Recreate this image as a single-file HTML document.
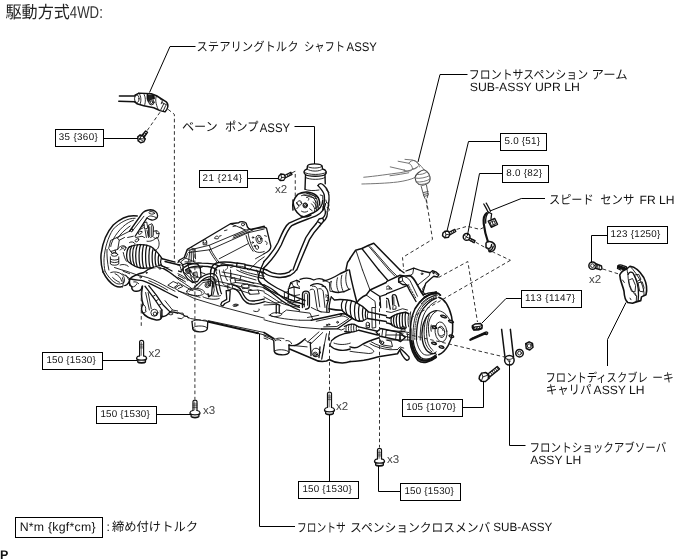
<!DOCTYPE html>
<html><head><meta charset="utf-8"><title>4WD front suspension</title>
<style>
html,body{margin:0;padding:0;background:#fff;}
body{width:688px;height:560px;overflow:hidden;font-family:"Liberation Sans","Noto Sans CJK JP",sans-serif;}
svg{display:block;position:absolute;left:0;top:0;will-change:transform;}
svg text{font-family:"Liberation Sans","Noto Sans CJK JP",sans-serif;text-rendering:geometricPrecision;}
#drawing *{vector-effect:non-scaling-stroke;}
#drawing .d{stroke:#333;stroke-width:1;stroke-dasharray:3.6 2.6;stroke-linecap:butt;}
</style></head><body>
<svg width="688" height="560" viewBox="0 0 688 560">
<g id="drawing" fill="none" stroke="#111" stroke-width="0.9" stroke-linecap="round" stroke-linejoin="round">
<!-- T1: left hub, 8x tile at (92,200) -->
<g transform="translate(92 200) scale(0.125)">
<path stroke-width="1.5" d="M362 128 C300 118 230 145 170 200 C120 255 85 340 73 430 C68 480 75 530 88 575"/>
<path d="M345 146 C285 145 225 178 168 235 C128 300 102 385 96 470 C95 510 98 540 104 570"/>
<path d="M332 162 C275 180 215 235 172 310 C160 335 152 355 150 372"/>
<path d="M305 208 C260 240 225 275 205 305"/>
<path d="M120 395 C118 440 122 500 135 560"/>
<!-- knuckle upper arm -->
<path stroke-width="1.3" d="M300 250 L398 112 C410 95 435 80 468 78 C500 78 525 98 525 125 C525 148 500 162 478 160 C460 158 448 150 440 143 L345 290"/>
<path d="M320 252 L415 130"/>
<ellipse cx="478" cy="103" rx="23" ry="10" transform="rotate(8 478 103)"/>
<path d="M440 143 C455 120 480 125 512 140"/>
<!-- caliper bracket bits -->
<path d="M416 182 L438 176 L446 225 L425 232 Z"/>
<path d="M455 200 L480 190 L492 215 L490 285 L470 300 L455 290 Z"/>
<path d="M462 215 L462 285 M478 205 L478 290"/>
<path d="M492 250 L520 245 L538 262 L530 300 L505 310 L492 295"/>
<path d="M512 248 L516 270 L535 268"/>
<path d="M440 240 L452 300 M425 240 L435 300"/>
<!-- bolts/bumps -->
<ellipse cx="385" cy="262" rx="17" ry="10" transform="rotate(-35 385 262)"/>
<ellipse cx="360" cy="322" rx="17" ry="10" transform="rotate(-35 360 322)"/>
<ellipse cx="318" cy="243" rx="12" ry="8" transform="rotate(-50 318 243)"/>
<path d="M300 340 C315 330 335 335 345 350 M285 300 L330 290 M350 300 L400 290 L420 300"/>
<path d="M395 215 L420 200 M385 235 L410 222"/>
<!-- hub circle arc -->
<path d="M520 298 C540 325 542 360 528 385 C520 398 508 405 498 405"/>
<path d="M440 330 C470 335 500 320 515 300"/>
<!-- bracket plate -->
<path d="M152 322 L200 300 L218 322 L206 395 L150 412 L135 390 Z"/>
<path d="M200 300 L300 250 M218 322 L260 300"/>
<path d="M205 395 C215 375 240 360 262 368 C275 375 272 395 260 405"/>
<path d="M225 400 C235 385 255 385 260 395"/>
<!-- tie rod end -->
<ellipse cx="180" cy="437" rx="26" ry="13"/>
<path d="M147 455 L147 512 C160 525 200 525 214 512 L214 455 M147 472 C165 484 198 484 214 472 M147 492 C165 504 198 504 214 492"/>
<path d="M160 430 C165 415 195 415 200 430"/>
<path d="M185 400 L190 420 M150 412 L160 425"/>
<!-- CV boot -->
<path stroke-width="1.3" d="M300 375 C340 355 420 350 470 372 C510 395 540 440 562 470"/>
<path stroke-width="1.3" d="M300 375 C275 395 270 465 288 492 C320 520 370 545 410 546 C460 546 510 536 550 520"/>
<path stroke-width="1.25" d="M318 368 C298 400 298 470 315 510"/>
<path stroke-width="1.25" d="M340 362 C320 400 320 480 340 525"/>
<path stroke-width="1.25" d="M365 358 C345 400 345 490 362 535"/>
<path stroke-width="1.25" d="M390 356 C372 400 372 500 390 544"/>
<path stroke-width="1.25" d="M415 357 C398 400 398 505 415 546"/>
<path stroke-width="1.25" d="M440 362 C425 400 425 505 440 545"/>
<path stroke-width="1.25" d="M465 372 C452 410 452 505 466 542"/>
<path stroke-width="1.25" d="M490 388 C478 420 478 505 492 538"/>
<path stroke-width="1.25" d="M512 410 C502 440 502 505 515 532"/>
<path stroke-width="1.25" d="M535 438 C527 460 527 505 538 526"/>
<path stroke-width="1.25" d="M555 462 C548 480 548 505 555 520"/>
<!-- shaft -->
<path stroke-width="1.3" d="M562 470 L665 497 M550 520 L640 568"/>
<path d="M250 420 C255 445 262 470 275 490 M235 380 C245 372 262 372 275 380"/>
<path d="M225 520 C245 512 275 515 290 530 M180 540 L240 560"/>
</g>
<!-- T2: left lower, 8x tile at (92,270) -->
<clipPath id="c2"><path d="M-10 -10 H306 V130 H240 V600 H-10 Z"/></clipPath>
<g transform="translate(92 270) scale(0.125)" clip-path="url(#c2)">
<path stroke-width="1.5" d="M88 15 C105 50 140 100 180 125 C210 140 250 138 278 118 C292 108 300 95 305 80"/>
<path d="M104 10 C125 50 160 90 195 108 C215 116 240 112 255 100"/>
<path d="M150 20 C175 10 215 15 240 35 C262 55 265 85 255 100"/>
<path d="M185 30 C210 40 230 60 238 90 M165 60 C180 75 200 90 220 98"/>
<path d="M250 10 L340 45 M270 40 L300 85"/>
<!-- ball joint bumps -->
<path stroke-width="1.3" d="M305 80 C295 100 300 125 315 140 C312 155 325 170 345 172 C370 178 392 160 395 135"/>
<path d="M315 140 C335 145 350 135 355 120 M345 110 C360 105 380 110 390 125"/>
<path d="M305 80 C320 60 345 50 365 55 M330 95 C345 85 370 85 385 95"/>
<path d="M350 40 C380 20 430 15 480 40 C520 60 600 115 690 160"/>
<path d="M365 55 C390 50 420 60 440 80 L690 190"/>
<path d="M440 80 C470 70 520 90 560 120 C600 150 650 180 690 200"/>
<path d="M370 70 L410 75 M385 55 L392 85"/>
<!-- bracket down -->
<path stroke-width="1.3" d="M395 135 C392 180 398 225 408 258 C395 270 390 300 400 325 C405 345 425 360 440 368 C470 390 520 405 548 400 C560 398 565 390 562 380 L562 300"/>
<path d="M408 258 C425 270 435 300 430 330 M400 325 C415 335 430 335 440 325"/>
<path d="M410 135 C420 200 440 290 455 350 M430 130 C440 200 455 280 470 350"/>
<path d="M430 130 C470 180 520 250 562 300 M455 150 C495 200 540 260 575 300"/>
<path d="M480 200 L500 190 M510 240 L530 230"/>
<circle cx="505" cy="345" r="26"/>
<circle cx="508" cy="350" r="13"/>
<path d="M545 305 L548 385 M562 380 C600 390 650 398 690 402"/>
<path d="M575 300 C610 330 650 355 690 362"/>
<path d="M612 345 C620 330 640 328 650 340 C645 355 625 360 612 345"/>
<!-- dashed -->
<path class="d" d="M395 190 L395 560"/>
</g>
<!-- T3: steering gear top, 8x tile at (178,200) -->
<g transform="translate(178 200) scale(0.125)">
<path stroke-width="1.4" d="M0 500 L12 480 L50 460 L75 395 L100 380 L420 190 L485 182 C495 170 530 168 545 185 L555 215 C565 232 585 238 600 232 L690 210"/>
<path d="M85 402 L250 362 L540 240 L690 222"/>
<path d="M100 380 L130 392 M420 190 L470 210 L540 240"/>
<path d="M250 362 L262 395 L560 262 L690 232"/>
<path d="M262 395 L240 400 L85 420"/>
<path d="M262 395 C280 430 305 470 330 500"/>
<path d="M250 400 C268 435 290 470 315 500"/>
<path d="M330 470 L560 350"/>
<path d="M440 305 L600 240 M445 290 L560 245"/>
<path d="M560 262 C570 320 590 380 615 410 C640 425 670 420 690 412"/>
<path d="M545 285 C555 330 575 380 600 410"/>
<ellipse cx="648" cy="315" rx="24" ry="34" transform="rotate(-15 648 315)"/>
<ellipse cx="650" cy="315" rx="13" ry="20" transform="rotate(-15 650 315)"/>
<ellipse cx="632" cy="378" rx="12" ry="17" transform="rotate(-15 632 378)"/>
<circle cx="600" cy="300" r="6"/><circle cx="598" cy="340" r="6"/><circle cx="612" cy="368" r="5"/>
<path d="M95 402 L85 490 M120 395 L125 492 M135 395 L140 470"/>
<path d="M50 460 C70 470 100 480 130 495"/>
<circle cx="215" cy="332" r="14"/><path d="M200 340 L202 358 L230 358 L230 340"/>
<path d="M295 300 C300 285 320 285 325 300 C330 310 310 315 295 308 Z M330 290 L345 285"/>
<path d="M372 245 L392 240 M440 212 L462 207"/>
<circle cx="520" cy="195" r="12"/><path d="M500 215 L520 235 M560 225 L585 238"/>
<path d="M330 500 C350 512 400 520 440 520"/>
<path d="M690 455 L640 490 L590 540 L570 560 M690 430 L620 470"/>
<!-- hoses lower-left -->
<path stroke-width="1.3" d="M30 560 C60 520 120 500 190 505 C250 505 300 510 330 530 M60 560 C90 535 140 525 200 530 C250 530 290 540 310 560"/>
<path d="M0 520 C20 515 40 520 50 535 M340 520 C360 505 385 510 395 530 C400 545 390 555 380 560"/>
<path d="M420 540 C450 525 500 525 540 540 L560 560"/>
</g>
<!-- T4: crossmember center-left, 8x tile at (178,270) -->
<g transform="translate(178 270) scale(0.125)">
<path d="M0 165 L130 228 L340 292 L690 385"/>
<path d="M0 100 C40 120 80 150 120 165 M0 60 L60 95"/>
<path d="M0 340 L60 368 L100 388 L240 412"/>
<path stroke-width="1.8" d="M245 414 L640 506"/>
<path d="M240 405 L690 500 M640 506 L690 520 M625 510 C630 500 648 500 652 512"/>
<path d="M0 345 L40 345 L50 370 L30 390 L0 385 M55 372 L75 368 L82 385"/>
<!-- bushing mount -->
<path stroke-width="1.3" d="M112 412 L118 470 C125 500 220 505 235 470 L238 415"/>
<path d="M118 470 C120 455 140 448 175 448 C210 448 232 455 235 470 M112 412 C125 400 160 398 180 400 M200 402 C215 398 232 402 238 415"/>
<!-- stamped oval -->
<path d="M70 170 C75 150 120 140 170 150 C200 158 215 170 210 185 C200 205 150 210 110 200 C85 195 68 185 70 170 Z"/>
<path d="M90 170 C95 158 125 152 160 160 C185 166 195 175 190 185"/>
<path d="M220 190 C260 210 310 215 340 205 M200 215 C240 235 300 240 330 228"/>
<!-- bracket w bolt -->
<path stroke-width="1.3" d="M130 140 L190 85 L250 75 L278 95 L268 200 L245 215 L240 190"/>
<path d="M150 150 L200 100 L255 92 M278 95 L290 160 L280 200"/>
<circle cx="235" cy="122" r="19"/><circle cx="235" cy="122" r="9"/>
<path d="M30 0 C60 30 100 60 130 100 L150 120 M60 0 C85 25 115 50 140 80"/>
<path d="M100 0 L120 40 L170 60 M0 30 C30 40 60 60 80 85"/>
<!-- hoses -->
<path stroke-width="1.3" d="M180 62 C210 40 250 25 285 30 C315 40 325 80 330 120 C335 150 340 175 348 190"/>
<path stroke-width="1.3" d="M190 85 C220 60 250 50 275 55 C295 65 300 100 305 130 C310 160 315 180 322 195"/>
<path d="M330 0 C335 40 345 80 360 110 C375 130 395 135 410 130 M365 0 C370 30 380 60 395 85"/>
<path d="M300 0 L310 30 M420 0 L425 60"/>
<!-- clamp -->
<path stroke-width="1.3" d="M385 165 L390 235 L350 258 L342 280 L358 288 L375 268 L412 250 L418 165 Z"/>
<path d="M395 120 L430 110 L440 150 L405 160 Z M420 70 L455 62 L460 100 L428 108 Z"/>
<!-- hoses right -->
<path stroke-width="1.3" d="M440 120 C470 125 495 140 510 170 C525 205 540 235 570 245 C610 255 660 240 690 232"/>
<path stroke-width="1.3" d="M445 150 C470 155 485 170 498 195 C515 230 535 262 570 270 C610 278 660 265 690 255"/>
<path d="M455 80 C520 85 600 100 690 120 M460 100 C520 105 600 120 690 142"/>
<path d="M510 120 L560 112 L570 140 L520 150 Z M570 125 L640 135"/>
<path d="M565 165 L640 160 L650 190 L575 195 Z M640 160 L690 170"/>
<path d="M470 0 C520 30 600 50 690 70 M500 0 C540 20 610 35 690 50"/>
<path d="M630 0 L650 60 L690 70 M660 0 L675 40"/>
<ellipse cx="460" cy="282" rx="21" ry="9" transform="rotate(-8 460 282)"/><ellipse cx="460" cy="282" rx="10" ry="4"/>
<path d="M605 328 C620 335 640 335 650 322 L648 312"/>
</g>
<!-- T5: seam, 8x tile at (150,235) -->
<clipPath id="c5"><path clip-rule="evenodd" d="M-10 -10 H800 V700 H-10 Z M-10 264 H224 V700 H-10 Z"/></clipPath>
<g transform="translate(150 235) scale(0.125)" clip-path="url(#c5)">
<path stroke-width="1.3" d="M120 212 L235 240 M95 250 L250 295"/>
<path d="M235 240 C245 255 250 275 250 295 M225 205 L260 235"/>
<!-- valve body -->
<path stroke-width="1.3" d="M262 238 L300 225 L380 232 L402 262 L408 330 L380 372 L340 380 L300 350 L268 300 Z"/>
<circle cx="305" cy="290" r="19"/><circle cx="305" cy="290" r="9"/>
<path d="M300 225 L310 262 L380 262 L402 262 M310 262 L340 380 M350 300 L375 295 L380 340 L355 345 Z"/>
<path d="M262 238 L245 215 L290 180 L300 150 M280 215 L330 215 L330 130"/>
<path d="M408 300 L440 310 M400 265 L430 250"/>
<!-- lower arm top face -->
<path d="M0 290 C40 270 90 272 130 295 C180 325 260 375 330 425"/>
<path d="M0 340 C50 360 120 400 180 430 C240 455 320 480 400 498"/>
<path d="M60 262 L85 258 L90 272 L65 276 Z"/>
<path d="M150 392 L200 372 L215 385 L165 408 Z M195 418 L245 398 L262 412 L212 435 Z"/>
<path d="M200 330 L260 360 M220 320 L275 350 M170 300 L215 330"/>
<path d="M0 400 C20 440 40 500 60 560 M20 470 L50 560"/>
</g>
<!-- T6: hoses, 8x tile at (264,200) -->
<g transform="translate(264 200) scale(0.125)">
<path stroke-width="1.5" d="M232 0 C232 50 255 100 295 128 C320 140 350 135 375 120"/>
<circle cx="330" cy="45" r="18"/><circle cx="332" cy="45" r="8"/>
<path d="M260 20 L280 50 L262 70 M300 90 C315 100 335 100 350 90 M380 30 C400 50 410 70 405 90 M395 15 C415 35 425 60 420 85"/>
<path d="M410 5 C430 25 440 50 435 75 M365 70 L385 85 M290 15 L305 30"/>
<!-- hose 1 -->
<path stroke-width="1.4" d="M470 0 C470 40 440 80 395 102 C340 125 250 160 200 185 C170 205 150 250 112 340 C90 385 50 440 0 492"/>
<path stroke-width="1.4" d="M492 30 C485 70 460 105 420 125 C360 150 270 180 222 205 C195 225 175 270 138 360 C115 405 70 470 20 522 L0 542"/>
<!-- hose 2 -->
<path stroke-width="1.4" d="M418 188 C385 225 355 265 335 300 C305 370 270 450 232 560"/>
<path stroke-width="1.4" d="M445 208 C415 240 385 280 365 315 C335 385 300 465 262 560"/>
<path stroke-width="1.4" d="M418 188 L440 152 L470 145 L478 168 L445 208 M428 172 L458 190"/>
<path stroke-width="1.3" d="M470 145 C485 130 495 110 490 85 C488 70 480 60 472 55 M478 168 C500 150 510 120 505 90"/>
<path d="M500 20 C520 25 525 45 515 55 M505 60 C525 62 530 80 518 88 M495 0 L500 20"/>
<!-- steering gear right face -->
<path stroke-width="1.3" d="M0 215 L20 225 L55 370 C55 395 40 412 0 430"/>
<path d="M5 285 L20 290 M10 330 C25 330 30 350 20 358"/>
<path stroke-width="1.4" d="M655 560 L668 500 L690 468"/>
</g>
<!-- T7: pump reservoir, 8x tile at (264,140) -->
<g transform="translate(264 140) scale(0.125)">
<path stroke-width="1.4" d="M347 210 C350 185 460 185 465 210 L468 232 C500 240 505 262 490 275 C470 295 350 295 330 275 C312 262 318 240 345 232 Z"/>
<path d="M347 210 C360 230 450 230 465 210 M345 232 C370 255 450 255 468 232 M322 258 C350 282 470 282 498 258"/>
<path stroke-width="1.4" d="M332 282 L328 395 M488 282 L490 350"/>
<path d="M332 300 C360 320 460 320 488 300 M328 395 C350 405 400 408 440 400"/>
<!-- hose from reservoir -->
<path stroke-width="1.4" d="M432 365 C440 345 460 345 475 360 C510 390 525 430 520 480 L510 560"/>
<path stroke-width="1.4" d="M432 365 C450 385 475 410 482 440 C488 480 480 520 470 560"/>
<!-- pulley -->
<path stroke-width="1.5" d="M232 560 C225 520 235 470 270 435 C310 405 380 410 420 445 C440 465 448 490 445 520"/>
<path d="M290 430 C330 415 380 425 410 455 C430 478 435 510 425 545 M300 445 C335 432 375 442 400 468 C418 490 420 520 412 550"/>
<path d="M320 440 L420 470 M340 425 L435 460"/>
<circle cx="330" cy="520" r="17"/><path d="M265 500 C275 480 295 480 300 500 C305 520 280 530 265 515 Z M340 460 C355 455 365 470 355 482"/>
<path d="M450 440 L470 445 L470 470 M500 400 L520 420"/>
<!-- bolt -->
<path stroke-width="1.3" d="M118 290 L135 272 L160 275 L172 298 L158 322 L130 325 L115 310 Z"/>
<path d="M135 272 L140 300 L130 325 M140 300 L172 298"/>
<path stroke-width="1.3" d="M168 282 L215 258 L224 275 L172 302"/>
<path d="M185 274 L192 290 M198 268 L205 284 M210 262 L216 278"/>
<path class="d" d="M225 262 L250 250 L250 470"/>
</g>
<!-- T8: rack right end, 8x tile at (264,270) -->
<clipPath id="c8"><rect x="-10" y="-10" width="298" height="600"/></clipPath>
<g transform="translate(264 270) scale(0.125)" clip-path="url(#c8)">
<path stroke-width="1.4" d="M0 22 C50 62 150 72 212 42 C238 27 252 12 258 0"/>
<path stroke-width="1.4" d="M22 0 C70 35 150 42 200 17 L218 0"/>
<!-- pipes from left -->
<path stroke-width="1.3" d="M0 118 C40 135 80 160 110 190 C150 225 200 262 290 300 L310 300"/>
<path stroke-width="1.3" d="M0 145 C35 160 70 185 100 212 C140 248 195 285 285 322 L330 322"/>
<path d="M0 180 C40 200 90 240 130 262 C170 280 230 290 290 300 M0 215 C40 235 85 265 130 285"/>
<path d="M0 250 C30 262 70 268 110 262 L140 255 M0 280 L100 275"/>
<!-- valve block -->
<path stroke-width="1.3" d="M200 140 L215 100 L262 82 L300 100 L335 95 L370 120 L365 160"/>
<path stroke-width="1.3" d="M195 150 L240 135 L300 150 L300 235 L250 250 L195 232 Z"/>
<path d="M240 135 L245 250 M215 100 L240 135 M262 82 L268 120 L300 150 M195 190 L245 205 L300 195"/>
<path d="M165 180 L195 172 L198 215 L168 222 Z M175 240 L240 262 L290 262"/>
<path d="M190 260 C220 275 260 285 295 285 M210 110 L230 105 M270 95 C285 90 295 95 300 105"/>
<!-- U pipe -->
<path stroke-width="1.4" d="M310 300 L310 192 C310 160 362 160 362 192 L362 282 C362 300 350 310 335 312"/>
<path d="M325 295 L325 195 C325 178 348 178 348 195 L348 280"/>
<!-- housing right end -->
<path stroke-width="1.4" d="M370 120 C420 95 470 105 500 135 C520 160 525 200 515 240"/>
<path d="M365 160 C375 150 395 150 405 165 L425 300 C430 325 445 335 460 335 M385 130 C400 125 420 135 425 150 L445 295"/>
<path d="M440 150 C455 145 470 155 475 170 L490 300 M465 130 L500 135 M500 200 L520 205 L525 240 L505 245"/>
<path stroke-width="1.3" d="M515 240 C505 270 500 300 505 335 M540 215 C525 260 520 300 525 335"/>
<path d="M380 300 L420 320 L460 335 L520 340"/>
<!-- diff tube -->
<path stroke-width="1.4" d="M470 90 C520 70 600 50 690 38 M560 175 C600 185 650 180 690 165"/>
<path d="M560 70 C545 100 545 145 560 175 M610 58 C598 90 598 150 612 182 M650 48 C640 80 640 150 652 178"/>
<path stroke-width="1.4" d="M540 215 C580 200 640 205 690 225"/>
<path d="M620 232 C600 260 598 300 612 335 M660 225 C645 255 645 300 655 335 M590 250 L600 330"/>
<!-- standoff -->
<path stroke-width="1.3" d="M98 282 L98 345 M122 280 L122 345 M98 282 C102 272 118 272 122 280"/>
<path d="M50 358 C55 340 110 335 140 350 C150 362 110 375 75 372 C58 370 48 365 50 358 Z"/>
<path d="M300 330 L300 375 M322 325 L322 380 M300 375 C305 385 318 385 322 380"/>
<!-- top plate lines -->
<path d="M40 362 C100 385 220 400 300 402 L400 440 M0 398 C100 430 250 455 400 470"/>
<path d="M140 350 L180 320 L300 335 M330 340 L520 350"/>
<path stroke-width="1.3" d="M380 402 L560 362 L690 350 M420 442 C500 430 600 400 690 372"/>
<path d="M400 410 L500 395 M445 412 L560 385"/>
<circle cx="622" cy="356" r="9"/><circle cx="505" cy="432" r="8"/><circle cx="540" cy="425" r="6"/>
<path stroke-width="1.3" d="M320 560 L425 470 L560 470 C610 460 660 440 690 420"/>
<path d="M350 560 L440 485 M380 560 L455 495 M480 480 L470 560 M560 470 L540 560"/>
<path d="M0 520 L60 540 L70 560 M0 545 L30 555"/>
</g>
<!-- T9: diff top, 8x tile at (350,200) -->
<g transform="translate(350 200) scale(0.125)">
<path stroke-width="1.5" d="M0 468 L45 402 L95 388 L150 362 L190 346 L400 560"/>
<path d="M50 410 L100 560"/>
<path stroke-width="1.3" d="M95 388 L230 560"/>
<path d="M150 370 L310 560 M165 375 L325 560"/>
<path class="d" d="M612 0 L660 315 L420 460 L430 560"/>
</g>
<!-- T10: diff lower/right shaft, 8x tile at (350,270) -->
<clipPath id="c10"><rect x="288" y="-10" width="420" height="600"/></clipPath>
<g transform="translate(350 270) scale(0.125)" clip-path="url(#c10)">
<path stroke-width="1.4" d="M0 30 L25 200 L45 262"/>
<path d="M310 0 L360 50 M325 0 L372 44"/>
<path stroke-width="1.5" d="M400 0 L432 22"/>
<path stroke-width="1.4" d="M45 262 C60 235 90 215 120 200 L170 150 L400 42 L432 48"/>
<path stroke-width="1.3" d="M170 150 L238 212 L470 120 M238 212 L240 300"/>
<path d="M120 200 L190 250 L200 300 M275 150 L305 125 L335 150 Z M312 135 L318 150"/>
<path stroke-width="1.3" d="M285 305 L282 240 C282 222 305 222 308 240 L322 312 M342 280 L338 210 C338 192 365 192 370 210 L392 290"/>
<path d="M295 300 L293 245 M352 275 L350 215"/>
<path d="M345 290 C350 280 365 280 368 292 L368 312 L345 315 Z M280 330 L330 340 L420 310 L460 320"/>
<!-- knuckle upper -->
<!-- disc arcs -->
<path stroke-width="1.6" d="M690 175 C620 195 560 240 520 310 C490 370 478 450 480 560"/>
<path d="M690 198 C630 218 575 262 540 328 C512 385 502 460 504 560"/>
<path stroke-width="1.3" d="M690 225 C640 245 595 285 565 345 C540 400 530 470 532 560"/>
<path d="M690 250 C650 268 615 305 590 360 C568 412 560 480 562 560"/>
<path stroke-dasharray="1.2 1.2" d="M690 212 C635 232 585 272 552 336 C525 392 516 465 518 560"/>
<path d="M690 330 C660 345 640 380 630 420 C625 460 628 500 635 530"/>
<path d="M660 450 L690 445 M655 470 L690 468 M650 440 C645 455 645 475 650 490"/>
<!-- outer boot -->
<path stroke-width="1.4" d="M318 385 C350 360 400 342 445 338 L470 350 M322 430 C350 455 400 472 445 465"/>
<path stroke-width="1.2" d="M335 372 C325 395 328 425 340 445 M355 362 C345 390 348 430 360 455 M378 352 C368 385 370 435 382 462 M400 346 C392 380 394 440 405 468 M422 342 C415 375 416 440 427 468 M445 338 C438 370 440 435 450 462"/>
<path d="M470 350 C462 380 462 430 470 455 M485 335 C478 370 478 430 485 460"/>
<!-- shaft -->
<path stroke-width="1.4" d="M135 345 L318 385 M135 388 L322 430"/>
<!-- inner joint -->
<path stroke-width="1.4" d="M0 290 C40 292 90 305 120 322 C135 335 140 360 135 388 C100 395 50 405 0 422"/>
<path d="M60 298 C50 330 50 380 62 408 M100 312 C92 340 92 375 102 398 M0 320 C20 325 35 330 45 340"/>
<path d="M170 300 L200 300 L205 460 L175 465 Z"/>
<!-- tie rod / lower -->
<path stroke-width="1.3" d="M0 430 C50 445 120 470 200 500 M0 462 C50 478 120 500 200 530"/>
<path d="M20 440 L15 468 M50 450 L45 478 M0 500 C60 515 140 540 220 560"/>
<circle cx="140" cy="432" r="14"/><path d="M128 440 L125 460 L155 462 L155 442"/>
<circle cx="425" cy="465" r="15"/><path d="M410 472 L408 490 L440 492 L440 472"/>
<path d="M200 500 L260 480 L400 490 L470 500 M240 520 L400 520 L480 540 M300 560 L480 560"/>
<path d="M490 470 L488 560 M460 510 L462 560 M400 490 L405 560"/>
</g>
<!-- T11: disc face, 8x tile at (420,285) -->
<g transform="translate(420 285) scale(0.125)">
<path stroke-width="1.5" d="M150 98 C195 112 232 170 252 250 C270 330 262 420 225 485 C205 520 180 545 150 558"/>
<path stroke-width="1.4" d="M0 135 C30 95 80 70 130 65 C145 65 158 72 165 82"/>
<path d="M10 150 C40 112 85 90 130 85 M25 165 C50 132 90 108 135 102 M0 30 C10 50 25 65 45 72 M40 0 L20 30 L35 75"/>
<!-- hat -->
<path stroke-width="1.4" d="M130 205 C80 210 40 260 22 330 C5 410 20 490 60 530 C80 548 105 552 125 545"/>
<path d="M130 205 C175 200 220 235 242 290 M55 250 C35 300 25 380 40 450 C50 490 70 520 95 535"/>
<path d="M75 240 C55 290 45 370 58 440 C66 480 85 510 105 525"/>
<ellipse cx="168" cy="375" rx="47" ry="80" transform="rotate(-8 168 375)"/>
<ellipse cx="170" cy="375" rx="27" ry="45" transform="rotate(-8 170 375)"/>
<path d="M150 340 C165 335 180 345 185 365 M155 400 C165 412 180 410 188 395"/>
<!-- studs -->
<path stroke-width="1.3" d="M165 245 C170 235 205 245 212 258 C210 268 175 262 165 245 Z M228 285 C235 275 265 285 268 298 C262 308 232 300 228 285 Z M95 332 C100 322 130 330 135 345 C128 352 98 345 95 332 Z M232 405 C240 395 268 402 270 415 C262 425 235 418 232 405 Z M92 462 C98 452 128 458 132 472 C125 480 96 475 92 462 Z M152 492 C158 482 188 488 192 502 C185 510 156 505 152 492 Z"/>
<!-- castle nut -->
<path stroke-width="1.4" d="M420 325 L440 312 L485 308 L497 322 L495 348 L470 358 L430 360 L420 345 Z"/>
<path fill="#111" d="M420 325 L435 335 L480 330 L497 322 L495 348 L470 358 L430 360 L420 345 Z"/>
<path stroke="#fff" stroke-width="1" d="M440 346 L448 343 M462 343 L470 340 M482 338 L488 335"/>
<!-- cotter pin -->
<path stroke-width="2.4" d="M403 438 L525 386"/>
<path stroke-width="1.2" d="M410 428 L520 378 C535 372 548 380 540 392 C535 400 525 398 520 392"/>
</g>
<!-- T12: right lower arm, 8x tile at (350,320); only y>160 (20px) portion new -->
<g transform="translate(350 320) scale(0.125)">
<path stroke-width="1.6" d="M480 165 C485 220 505 280 545 325 C580 350 640 340 690 300"/>
<path stroke-width="1.3" d="M505 165 C510 215 530 265 565 300 C600 322 650 310 690 278"/>
<path stroke-dasharray="1.2 1.2" stroke-width="2.5" d="M492 170 C498 220 518 272 555 312 C590 335 645 325 690 290"/>
<path d="M532 165 C538 205 555 245 585 272 C615 290 655 280 690 255"/>
<!-- arm -->
<path stroke-width="1.5" d="M0 332 C40 335 80 325 110 322 C160 315 200 300 240 292 L380 270 L398 240"/>
<path stroke-width="1.5" d="M0 215 C30 225 55 225 75 210 C110 185 170 160 232 142"/>
<path d="M0 250 C40 258 100 262 150 268 C175 268 190 260 190 250 C185 235 150 215 110 200"/>
<path d="M160 190 C200 215 260 232 320 238 L380 236 M170 175 C210 200 270 220 330 225"/>
<path stroke-width="1.4" d="M398 240 C410 270 425 300 450 320 C465 325 478 315 472 295 L440 262 L405 230"/>
<path d="M380 236 L400 215 L430 225 M232 142 L262 200 L340 212 L330 170 L290 160"/>
<circle cx="256" cy="182" r="14"/>
<!-- knuckle bottom / tie rod end -->
<path stroke-width="1.4" d="M210 98 L245 68 L400 100 L442 140 L405 172 L380 160 L240 130 Z"/>
<path d="M262 75 L255 128 M290 85 L285 135 M370 108 L365 155 M400 100 L395 160"/>
</g>
<!-- T13: crossmember bottom center, 8x tile at (264,320) -->
<g transform="translate(264 320) scale(0.125)">
<path stroke-width="1.6" d="M0 100 L80 150"/>
<path d="M0 128 L75 162"/>
<path stroke-width="1.4" d="M78 165 L82 250 C90 285 190 288 200 258 L200 200"/>
<path d="M80 160 C90 145 130 140 160 150 M175 165 C190 160 215 170 222 190 M82 250 C90 232 190 232 200 258"/>
<path d="M90 165 C100 155 125 155 135 165"/>
<path stroke-width="1.4" d="M200 200 C240 215 270 200 300 175 L330 150"/>
<path stroke-width="1.6" d="M205 232 C260 255 330 285 385 308 C420 328 470 335 500 328 L520 318"/>
<path d="M240 205 L345 215 M330 160 L350 175 L380 185"/>
<path stroke-width="1.3" d="M370 180 L376 285 M482 200 L462 312 M448 215 L440 300"/>
<circle cx="416" cy="260" r="34"/><circle cx="410" cy="275" r="18"/><circle cx="410" cy="277" r="9"/>
<path d="M350 175 L440 95 M380 185 L470 100 M482 200 L500 110 M520 110 L515 160"/>
<path stroke-width="1.4" d="M540 165 C570 135 630 108 690 100 M528 205 C560 240 630 255 690 232"/>
<path stroke-width="1.5" d="M525 318 C570 345 640 352 690 332"/>
<path d="M560 185 C600 200 650 200 690 185 M540 165 L528 205"/>
</g>
<!-- T14: steering U-joint + bolt, 8x tile at (110,85) -->
<g transform="translate(110 85) scale(0.125)">
<path stroke-width="1.4" d="M75 88 L200 88 M70 130 L198 134"/>
<path stroke-width="1.5" d="M200 82 L232 65 L330 70 L372 86 L450 135 C465 150 468 170 455 195 L440 215 L400 205 L350 182 L270 166 L215 150 L196 134"/>
<ellipse cx="214" cy="110" rx="18" ry="30"/>
<path d="M232 65 C250 90 252 130 240 155 M270 70 C285 95 288 135 275 165"/>
<path fill="#222" stroke="none" d="M299 77 L355 74 L358 112 L334 115 L306 142 L295 119 Z"/>
<circle cx="332" cy="138" r="21" fill="#ccc"/><circle cx="332" cy="138" r="10" fill="#fff"/>
<path stroke-width="1.8" d="M300 78 L300 110 M345 82 L350 108"/>
<path d="M372 86 C360 110 365 150 385 195 M400 110 L420 125 L410 150 M430 150 L405 200 M445 165 L425 210 M415 140 L455 160"/>
<path class="d" d="M465 195 L515 235 L515 1416 M400 218 L292 372"/>
<!-- bolt -->
<path stroke-width="1.4" d="M222 415 L240 400 L265 408 L282 432 L270 455 L245 462 L225 445 Z"/>
<path d="M240 400 L245 430 L225 445 M245 430 L282 432 M232 425 L262 448"/>
<path stroke-width="1.4" d="M252 408 L285 368 L300 378 L270 420"/>
<path d="M265 395 L280 405 M275 382 L290 392"/>
</g>
<!-- T15: upper arm (grey), 8x tile at (350,140) -->
<g transform="translate(350 140) scale(0.125)" stroke="#666" stroke-width="0.9">
<path d="M110 298 C200 290 320 272 400 262 C460 252 510 235 540 215"/>
<path d="M95 352 C180 350 300 346 380 336 C440 328 490 315 520 300"/>
<path d="M320 286 C380 278 430 270 470 262"/>
<path d="M322 215 L430 240 C450 250 470 252 490 245 M385 170 L470 186 C490 195 500 215 500 232 M440 155 L500 160 C530 170 565 200 592 238"/>
<path d="M470 186 C480 170 500 160 520 165 C540 175 550 195 555 215 M430 240 C440 235 445 245 440 255 M500 232 C520 235 535 225 540 215"/>
<path stroke="#444" stroke-width="1.1" d="M520 300 C525 275 560 245 592 238 C625 250 645 285 640 320 C635 345 610 358 580 362 C550 360 525 340 520 300 Z"/>
<path d="M535 275 C565 280 600 270 615 255 M522 305 C560 312 610 300 636 285 M528 335 C565 340 615 330 640 312 M548 355 C580 358 615 350 632 338"/>
<path stroke="#444" d="M570 372 L590 445 M612 362 L625 435 M590 445 L600 468 M625 435 L618 462 M588 420 L625 412 M592 435 L625 428 M596 450 L622 444"/>
<path class="d" d="M608 470 L620 560"/>
</g>
<!-- T16: bolts + speed sensor, 8x tile at (436,195) -->
<g transform="translate(436 195) scale(0.125)">
<path stroke-width="1.4" d="M55 305 L72 290 L100 290 L112 312 L100 338 L70 342 L52 325 Z"/>
<path d="M72 290 L80 318 L70 342 M80 318 L112 312"/>
<path stroke-width="1.4" d="M105 298 L150 275 L158 292 L110 320"/>
<path d="M122 290 L130 308 M136 282 L144 300"/>
<circle cx="245" cy="335" r="27" stroke-width="1.5"/>
<path d="M228 322 C238 335 255 345 268 345 M232 350 L255 318"/>
<path stroke-width="1.4" d="M268 345 L312 365 L305 382 L262 358"/>
<path d="M285 352 L280 370 M298 358 L293 376"/>
<!-- sensor -->
<path stroke-width="1.3" d="M382 72 C395 95 408 115 415 135 M402 65 C415 88 428 110 435 130"/>
<path stroke-width="2.2" d="M405 145 C385 160 378 190 382 230 C388 280 400 330 415 372"/>
<path stroke-width="1.3" d="M420 140 C400 160 395 190 398 225 M415 135 L445 150 L440 190"/>
<path stroke-width="1.4" d="M418 210 L470 188 L492 235 L442 258 Z"/>
<path d="M435 218 L465 206 L475 232 L446 244 Z M450 215 L458 238"/>
<path stroke-width="1.5" d="M400 385 C405 370 430 368 450 378 C470 390 478 410 470 430 C462 450 440 458 425 452 L420 430 L400 420 Z"/>
<path d="M420 430 C435 425 445 410 445 395 M430 445 C445 440 455 425 458 410" stroke-width="1.3"/>
<path class="d" d="M165 275 L250 250 L350 275 L385 258 M318 378 L460 458 L595 522"/>
</g>
<!-- T17: caliper + bolt, 8x tile at (580,250) -->
<g transform="translate(580 250) scale(0.125)">
<circle cx="100" cy="125" r="29" stroke-width="1.5"/><circle cx="100" cy="125" r="15"/>
<path stroke-width="1.4" d="M122 108 L172 128 L176 152 L165 158 L118 145"/>
<path d="M140 116 L136 150 M155 122 L152 155"/>
<path class="d" d="M182 152 L320 195"/>
<path stroke-width="1.6" d="M318 200 C330 170 350 160 375 150 L400 130 C440 135 480 170 510 220 C530 260 540 310 528 358 L492 375 L486 405 L450 415 L420 426 L382 420 C362 405 355 380 352 330 C345 290 320 250 318 200 Z"/>
<path stroke-width="3.5" d="M312 135 L355 150"/>
<path stroke-width="1.3" d="M302 128 C310 118 330 118 345 125 L372 135 L375 150 M302 128 L300 148 L325 160"/>
<path stroke-width="1.3" d="M385 195 C395 175 410 170 425 185 C450 230 470 300 468 360 L465 405"/>
<path d="M400 130 C430 160 470 215 490 260 C505 300 515 335 512 365 M375 150 C380 180 385 200 385 225 C390 280 420 340 452 370 L450 415"/>
<path d="M392 240 L420 228 L445 285 L440 335 L412 330 L395 285 Z M438 200 L470 195 L488 235 L458 250 Z M468 262 L498 255 L512 300 L505 335 L480 330 Z"/>
<path d="M355 260 L340 240 M400 385 L408 398 M440 345 L452 370"/>
</g>
<!-- T18: shock bottom, washers, bolt 105; 8x tile at (466,320) -->
<g transform="translate(466 320) scale(0.125)">
<path stroke-width="1.5" d="M285 75 L312 300 M355 75 L380 295"/>
<circle cx="347" cy="322" r="38" stroke-width="1.5"/>
<path d="M315 305 C330 320 365 320 380 300 M345 322 L350 358 M330 315 C335 330 345 335 355 330"/>
<circle cx="428" cy="265" r="30" stroke-width="1.5"/><circle cx="428" cy="265" r="15"/>
<path stroke-width="1.5" d="M478 190 L505 175 L532 188 L536 218 L510 240 L482 228 Z"/>
<circle cx="506" cy="207" r="16"/><path d="M478 190 L490 200 M532 188 L520 198"/>
<!-- bolt 105 -->
<path stroke-width="1.5" d="M108 450 L125 425 L158 420 L180 440 L178 472 L155 492 L122 490 L105 470 Z"/>
<path d="M125 425 L135 455 L122 490 M135 455 L180 440 M165 422 C185 430 195 450 188 470"/>
<path stroke-width="1.4" d="M175 432 L250 372 L268 392 L190 455"/>
<path d="M195 418 L210 438 M208 408 L223 428 M221 398 L236 418 M234 388 L249 408 M246 378 L261 398"/>
</g>
<!-- flange bolts -->
<defs><g id="fbh">
<path stroke-width="1.2" d="M-2 0 C-5.6 0.3 -5.8 3.8 -3.6 4.3 M2 0 C5.6 0.3 5.8 3.8 3.6 4.3 M-5 2.9 C-3 4.8 3 4.8 5 2.9"/>
<path stroke-width="1.2" d="M-3.9 4.1 L-3.9 6.3 C-3 7.7 3 7.7 3.9 6.3 L3.9 4.1 M-3.9 5.9 C-2 7 2 7 3.9 5.9"/>
</g></defs>
<g transform="translate(141.6 340.3)"><path stroke-width="1.2" d="M-2 15.5 L-2 1.6 C-2 -0.5 2 -0.5 2 1.6 L2 15.5"/><path stroke-width="0.6" d="M-0.3 2 L-0.3 15.0 M-2 4 L2 4 M-2 5.8 L2 5.8 M-2 7.6 L2 7.6"/><use href="#fbh" y="15.5"/></g>
<g transform="translate(195.0 400.0)"><path stroke-width="1.2" d="M-2 10.5 L-2 1.6 C-2 -0.5 2 -0.5 2 1.6 L2 10.5"/><path stroke-width="0.6" d="M-0.3 2 L-0.3 10.0 M-2 4 L2 4 M-2 5.8 L2 5.8 M-2 7.6 L2 7.6"/><use href="#fbh" y="10.5"/></g>
<g transform="translate(329.5 392.0)"><path stroke-width="1.2" d="M-2 15.5 L-2 1.6 C-2 -0.5 2 -0.5 2 1.6 L2 15.5"/><path stroke-width="0.6" d="M-0.3 2 L-0.3 15.0 M-2 4 L2 4 M-2 5.8 L2 5.8 M-2 7.6 L2 7.6"/><use href="#fbh" y="15.5"/></g>
<g transform="translate(379.5 448.3)"><path stroke-width="1.2" d="M-2 10.5 L-2 1.6 C-2 -0.5 2 -0.5 2 1.6 L2 10.5"/><path stroke-width="0.6" d="M-0.3 2 L-0.3 10.0 M-2 4 L2 4 M-2 5.8 L2 5.8 M-2 7.6 L2 7.6"/><use href="#fbh" y="10.5"/></g>


<!-- global dashed -->
<path class="d" d="M194.9 248 L194.9 399.5 M329.5 331 L329.5 391.5 M379.5 296 L379.5 447.5"/>
<path class="d" d="M510.4 260.3 L408 319.5 M400 332.5 L504.5 357 M438.5 277.5 L467.8 261.5 L477.5 322"/>
<!-- T19: knuckle upper + bracket, 8x tile at (380,255) -->
<g transform="translate(380 255) scale(0.125)">
<path stroke-width="1.6" d="M150 215 L150 186 L176 170 L240 165 C262 172 275 195 300 242 L332 300 L346 320"/>
<path stroke-width="1.4" d="M150 215 L180 236 L215 240 C225 262 240 292 265 332 L288 372"/>
<path d="M176 170 L182 208 L150 215 M182 208 L215 240 M200 175 C225 180 240 200 250 225 L300 330"/>
<path stroke-dasharray="1.5 1.5" d="M232 250 L290 350"/>
<path stroke-width="1.3" d="M208 128 L270 105 L330 126 L400 142 L420 125 L446 135 L472 156 L460 176 L430 170 L410 186 L366 226 L346 290 L332 300"/>
<path d="M270 105 L262 150 L240 165 M400 142 L395 165 L300 242 M420 125 L430 150"/>
<circle cx="336" cy="150" r="7"/><circle cx="428" cy="142" r="7"/><path d="M446 150 L462 160"/>
<path stroke-width="1.4" d="M346 320 C380 302 430 295 465 305 L480 322"/>
<path d="M350 335 C385 318 430 312 462 320"/>
</g>
<!-- T20: inner joint region, 8x tile at (300,270) -->
<g transform="translate(300 270) scale(0.125)">
<!-- connect from T8 left -->
<path stroke-width="1.3" d="M0 75 C40 60 80 62 110 80 C150 60 180 70 200 85"/>
<path stroke-width="1.4" d="M185 88 C230 80 280 55 320 30 L385 0"/>
<path stroke-width="1.4" d="M262 172 C300 185 350 180 400 152"/>
<path d="M250 92 C240 120 245 150 262 172 M300 62 C288 100 292 150 312 180 M335 42 C322 85 328 145 350 178 M372 22 C360 65 365 125 392 155"/>
<path d="M200 85 L235 100 L250 92 M235 100 L240 170 L262 172"/>
<!-- diff left edge -->
<path stroke-width="1.5" d="M395 0 C405 60 425 140 440 200 L456 262"/>
<path stroke-width="1.4" d="M456 262 C470 235 500 212 530 200 L560 160 L690 100"/>
<path stroke-width="1.3" d="M560 160 L640 212 L690 195 M640 212 L645 300"/>
<path d="M530 200 L600 250 L605 300 M500 0 L560 160"/>
<path stroke-width="1.3" d="M630 0 L700 80"/>
<!-- U pipe & rack end -->
<path stroke-width="1.4" d="M20 300 L20 195 C20 160 75 160 75 195 L75 285 C75 300 60 312 45 314"/>
<path d="M35 295 L35 198 C35 180 60 180 60 198 L60 282"/>
<path stroke-width="1.3" d="M85 125 C120 100 170 105 200 135 C225 160 232 200 225 245"/>
<path d="M80 160 C90 150 108 150 115 165 L135 300 C140 325 155 335 170 335 M100 130 C115 125 132 135 138 150 L158 295 M150 150 C165 145 180 155 185 170 L200 300"/>
<path d="M175 130 L205 135 M205 200 L228 205 L232 240 L210 245 M205 215 C215 210 225 218 225 228"/>
<path stroke-width="1.3" d="M225 245 C215 270 210 300 215 335 M250 215 C235 260 230 300 235 335"/>
<path d="M90 300 L130 320 L170 335 L232 340"/>
<!-- inner boot -->
<path stroke-width="1.4" d="M250 215 L275 240 C320 232 400 238 440 255 C480 275 520 305 545 332"/>
<path stroke-width="1.4" d="M232 310 C270 318 310 322 335 322 C370 360 420 395 470 410 C495 412 515 405 525 395"/>
<path stroke-width="1.2" d="M345 240 C330 265 328 300 340 325 M378 242 C362 275 362 325 378 360 M412 248 C398 285 398 345 415 385 M445 260 C432 295 432 360 448 402 M475 278 C465 310 465 370 478 408 M505 300 C497 325 497 375 508 402 M528 318 C522 340 522 375 530 392"/>
<!-- shaft -->
<path stroke-width="1.4" d="M545 335 L690 366 M540 388 L690 412"/>
<path d="M545 335 C538 350 538 372 540 388"/>
<!-- bracket plate right -->
<path d="M578 300 L602 300 L606 460 L580 465 Z"/>
<circle cx="542" cy="432" r="14"/><path d="M530 440 L528 458 L556 460 L556 442"/>
<!-- crossmember plate -->
<path stroke-width="1.4" d="M90 402 L330 350 C360 348 395 362 420 386 L300 470 L172 472"/>
<path d="M130 410 L330 368 C352 366 375 375 390 390 L295 452 L190 455"/>
<circle cx="326" cy="358" r="7"/><circle cx="300" cy="418" r="7"/><circle cx="232" cy="436" r="6"/><circle cx="215" cy="440" r="5"/>
<path d="M60 380 L150 362 M0 335 L80 345 L100 390 M0 402 L90 402 M0 458 L172 472"/>
<!-- tie rod boot -->
<path stroke-width="1.3" d="M355 452 C380 438 410 430 435 435 L470 455 M358 492 C390 498 425 498 445 490 L470 482"/>
<path d="M372 445 C365 460 366 480 372 494 M392 438 C385 458 386 482 392 497 M412 433 C406 455 407 482 413 497 M432 434 C427 452 428 478 433 494 M452 445 C449 458 449 475 452 488"/>
<path stroke-width="1.3" d="M470 455 L620 490 M470 482 L620 520"/>
<path d="M420 386 C440 400 470 410 500 412 M300 470 L330 480 L355 470"/>
</g>
<!-- extra hoses (src coords) -->
<g>
<path stroke-width="1.4" d="M264 261.5 C261 268 258 275 258.2 279 C258.4 282 261 284.5 271 291 C280 296 292 301 304 304.5"/>
<path stroke-width="1.4" d="M264 267.75 C263 271 262.5 275 263.5 278 C265 281 270 284 277 288 C286 293 296 297.5 305 300.5"/>
<path stroke-width="1.4" d="M264 272.75 C258 271.5 252 269.5 245 268.2 M266.75 270 C261 268 253 266 245 264.8"/>
<path stroke-width="1.3" d="M245 264.2 L237 263 L236.6 266.8 L245 268.6 Z"/>
<path stroke-width="1.4" d="M237 263.3 C230 262 222 261.5 216.5 263 C212 264.5 210.5 268 210.5 274 M236.8 266.6 C230 265.3 223 264.8 218.5 266 C215 267.5 214 270 214 275"/>
<path d="M210.5 274 L210.5 286 M214 275 L214 287 M208.5 279 L216 279 L216 283 L208.5 283 Z"/>
<path d="M216 281 C226 283 240 286 252 290 M216 284.5 C226 286.5 238 289.5 250 293.5"/>
<path d="M222 272 C232 273.5 245 276.5 256 280 M221 275.5 C231 277 243 279.5 254 283.5"/>
<path d="M231 273.5 L230.2 277 M241 276 L240 279.5"/>
</g>
<!-- T21: left lower arm redo, 8x tile at (120,255) -->
<clipPath id="c21"><rect x="16" y="104" width="448" height="470"/></clipPath>
<g transform="translate(120 255) scale(0.125)" clip-path="url(#c21)">
<path stroke-width="1.4" d="M80 190 C100 170 150 150 190 140 L230 112 C260 100 300 95 335 102 C370 115 400 140 440 170 C480 200 520 232 560 262 L610 292"/>
<path stroke-width="1.4" d="M80 190 C110 200 150 200 180 205 C240 225 300 258 360 290 C420 322 480 350 560 385 L690 440"/>
<path d="M150 165 C200 170 250 190 300 215 C350 240 400 270 440 290 M230 205 C280 225 330 250 380 280"/>
<path d="M385 240 L425 212 L470 232 L430 262 Z M440 265 L480 240 L500 250 L465 278 Z"/>
<circle cx="320" cy="106" r="8"/><circle cx="165" cy="176" r="7"/><circle cx="212" cy="142" r="5"/>
<path d="M16 120 C60 130 110 150 150 165 M16 150 C40 160 60 175 80 190"/>
<!-- ball joint bumps -->
<path stroke-width="1.5" d="M80 190 C70 210 75 240 95 255 C90 275 110 295 135 290 C160 290 175 270 178 250"/>
<path d="M95 255 C115 258 130 245 135 230 M110 215 C125 212 140 218 150 230"/>
<path d="M16 175 C30 200 30 240 16 262"/>
<!-- bracket -->
<path stroke-width="1.5" d="M180 250 C170 300 172 360 185 395 C170 410 168 440 180 460 C200 490 240 510 290 520 C320 522 335 510 335 490 L335 440"/>
<path stroke-width="1.3" d="M200 250 C230 290 270 340 335 440 M230 245 C260 280 300 330 345 400 L400 455"/>
<path d="M205 300 L235 440 M225 300 L250 430 M185 395 C200 400 210 420 205 445 M180 460 C195 465 205 460 210 450"/>
<path d="M265 330 L280 322 M290 365 L305 357 M315 400 L330 392"/>
<circle cx="275" cy="462" r="28"/><circle cx="280" cy="470" r="14"/>
<path d="M322 445 L325 505"/>
<!-- crossmember lower edge -->
<path stroke-width="1.4" d="M335 490 C360 500 380 480 400 455 C440 452 480 470 520 500 L690 522"/>
<path d="M420 440 L690 490 M400 455 L420 440 L360 365"/>
<path d="M385 470 C395 458 415 458 425 470 C418 482 395 482 385 470 M500 492 C505 482 525 482 530 494"/>
<path class="d" d="M170 290 L170 600"/>
</g>

</g>
<g id="annot">
<text x="5.50" y="18.00" font-size="17.00" fill="#222" textLength="64.5" lengthAdjust="spacingAndGlyphs">駆動方式</text>
<text x="69.80" y="18.20" font-size="17.00" fill="#333" textLength="33" lengthAdjust="spacingAndGlyphs">4WD:</text>
<text x="196.48" y="50.70" font-size="12.40" fill="#111" textLength="102.0" lengthAdjust="spacingAndGlyphs">ステアリングトルク</text>
<text x="303.89" y="50.70" font-size="12.40" fill="#111" textLength="41.3" lengthAdjust="spacingAndGlyphs">シャフト</text>
<text x="346.60" y="51.00" font-size="12.40" fill="#111" textLength="30.3" lengthAdjust="spacingAndGlyphs">ASSY</text>
<path d="M195.5 46.5 L170.0 46.5 L149.5 92.5" fill="none" stroke="#000" stroke-width="1"/>
<text x="181.89" y="131.20" font-size="12.40" fill="#111" textLength="35.9" lengthAdjust="spacingAndGlyphs">ベーン</text>
<text x="225.11" y="131.20" font-size="12.40" fill="#111" textLength="33.3" lengthAdjust="spacingAndGlyphs">ポンプ</text>
<text x="259.80" y="131.50" font-size="12.40" fill="#111" textLength="30.3" lengthAdjust="spacingAndGlyphs">ASSY</text>
<path d="M294.5 126.5 L314.5 126.5 L314.5 164.0" fill="none" stroke="#000" stroke-width="1"/>
<text x="468.87" y="78.70" font-size="12.40" fill="#111" textLength="119.2" lengthAdjust="spacingAndGlyphs">フロントサスペンション</text>
<text x="591.59" y="78.70" font-size="12.40" fill="#111" textLength="36.1" lengthAdjust="spacingAndGlyphs">アーム</text>
<text x="469.80" y="90.80" font-size="12.00" fill="#111" textLength="110" lengthAdjust="spacingAndGlyphs">SUB-ASSY UPR LH</text>
<path d="M467.5 74.5 L440.0 74.5 L418.0 162.0" fill="none" stroke="#000" stroke-width="1"/>
<text x="549.00" y="203.70" font-size="12.40" fill="#111" textLength="44.7" lengthAdjust="spacingAndGlyphs">スピード</text>
<text x="600.23" y="203.70" font-size="12.40" fill="#111" textLength="34.0" lengthAdjust="spacingAndGlyphs">センサ</text>
<text x="639.60" y="204.00" font-size="12.00" fill="#111" textLength="35" lengthAdjust="spacingAndGlyphs">FR LH</text>
<path d="M545.0 198.5 L521.3 198.5 L490.0 211.0" fill="none" stroke="#000" stroke-width="1"/>
<text x="545.59" y="381.70" font-size="12.40" fill="#111" textLength="102.2" lengthAdjust="spacingAndGlyphs">フロントディスクブレ</text>
<text x="652.28" y="381.70" font-size="12.40" fill="#111" textLength="21.4" lengthAdjust="spacingAndGlyphs">ーキ</text>
<text x="545.73" y="393.70" font-size="12.40" fill="#111" textLength="45.8" lengthAdjust="spacingAndGlyphs">キャリパ</text>
<text x="593.60" y="394.00" font-size="12.00" fill="#111" textLength="51" lengthAdjust="spacingAndGlyphs">ASSY LH</text>
<path d="M626.0 302.5 L607.5 339.5 L607.5 366.0" fill="none" stroke="#000" stroke-width="1"/>
<text x="529.57" y="451.70" font-size="12.40" fill="#111" textLength="136.7" lengthAdjust="spacingAndGlyphs">フロントショックアブソーバ</text>
<text x="530.20" y="463.80" font-size="12.00" fill="#111" textLength="51" lengthAdjust="spacingAndGlyphs">ASSY LH</text>
<path d="M509.5 365.0 L509.5 445.5 L525.5 445.5" fill="none" stroke="#000" stroke-width="1"/>
<text x="296.95" y="531.70" font-size="12.40" fill="#111" textLength="48.7" lengthAdjust="spacingAndGlyphs">フロントサ</text>
<text x="349.96" y="531.70" font-size="12.40" fill="#111" textLength="140.4" lengthAdjust="spacingAndGlyphs">スペンションクロスメンバ</text>
<text x="493.30" y="531.30" font-size="12.00" fill="#111" textLength="59" lengthAdjust="spacingAndGlyphs">SUB-ASSY</text>
<path d="M259.5 334.0 L259.5 526.5 L295.0 526.5" fill="none" stroke="#000" stroke-width="1"/>
<rect x="15.5" y="517.5" width="87.0" height="20.0" fill="#fff" stroke="#000" stroke-width="1"/>
<text x="19.70" y="530.70" font-size="12.30" textLength="75.8" lengthAdjust="spacing" fill="#111">N*m {kgf*cm}</text>
<text x="106.50" y="531.00" font-size="12.20" fill="#111">:</text>
<text x="111.91" y="531.20" font-size="12.40" fill="#111" textLength="86.2" lengthAdjust="spacingAndGlyphs">締め付けトルク</text>
<text x="0.00" y="559.30" font-size="12.50" fill="#111" font-weight="bold">P</text>
<rect x="55.5" y="129.5" width="48.0" height="17.0" fill="#fff" stroke="#000" stroke-width="1"/>
<text x="58.80" y="140.20" font-size="9.80" textLength="38.9" lengthAdjust="spacing" fill="#111">35 {360}</text>
<path d="M103.5 138.5 L138.0 138.5" fill="none" stroke="#000" stroke-width="1"/>
<rect x="199.5" y="170.5" width="48.0" height="17.0" fill="#fff" stroke="#000" stroke-width="1"/>
<text x="202.50" y="181.20" font-size="9.80" textLength="39.6" lengthAdjust="spacing" fill="#111">21 {214}</text>
<path d="M247.5 178.5 L278.0 178.5" fill="none" stroke="#000" stroke-width="1"/>
<rect x="500.5" y="133.5" width="46.0" height="17.0" fill="#fff" stroke="#000" stroke-width="1"/>
<text x="504.50" y="144.20" font-size="9.80" textLength="35.5" lengthAdjust="spacing" fill="#111">5.0 {51}</text>
<path d="M500.5 141.5 L468.5 141.5 L447.0 231.0" fill="none" stroke="#000" stroke-width="1"/>
<rect x="502.5" y="165.5" width="46.0" height="17.0" fill="#fff" stroke="#000" stroke-width="1"/>
<text x="506.30" y="176.20" font-size="9.80" textLength="35.8" lengthAdjust="spacing" fill="#111">8.0 {82}</text>
<path d="M502.5 173.5 L479.5 173.5 L467.5 235.0" fill="none" stroke="#000" stroke-width="1"/>
<rect x="607.5" y="226.5" width="60.0" height="17.0" fill="#fff" stroke="#000" stroke-width="1"/>
<text x="610.50" y="237.20" font-size="9.80" textLength="49.8" lengthAdjust="spacing" fill="#111">123 {1250}</text>
<path d="M607.5 235.5 L591.5 235.5 L591.5 262.5" fill="none" stroke="#000" stroke-width="1"/>
<rect x="521.5" y="290.5" width="60.0" height="17.0" fill="#fff" stroke="#000" stroke-width="1"/>
<text x="525.10" y="301.20" font-size="9.80" textLength="50.0" lengthAdjust="spacing" fill="#111">113 {1147}</text>
<path d="M521.5 298.5 L506.0 298.5 L482.0 323.0" fill="none" stroke="#000" stroke-width="1"/>
<rect x="402.5" y="399.5" width="60.0" height="17.0" fill="#fff" stroke="#000" stroke-width="1"/>
<text x="406.20" y="410.20" font-size="9.80" textLength="49.6" lengthAdjust="spacing" fill="#111">105 {1070}</text>
<path d="M462.5 407.5 L483.5 407.5 L483.5 381.0" fill="none" stroke="#000" stroke-width="1"/>
<rect x="42.5" y="352.5" width="60.0" height="17.0" fill="#fff" stroke="#000" stroke-width="1"/>
<text x="46.40" y="363.20" font-size="9.80" textLength="49.4" lengthAdjust="spacing" fill="#111">150 {1530}</text>
<path d="M102.5 360.5 L137.0 360.5" fill="none" stroke="#000" stroke-width="1"/>
<rect x="96.5" y="406.5" width="60.0" height="17.0" fill="#fff" stroke="#000" stroke-width="1"/>
<text x="100.40" y="417.20" font-size="9.80" textLength="49.4" lengthAdjust="spacing" fill="#111">150 {1530}</text>
<path d="M156.5 414.5 L191.0 414.5" fill="none" stroke="#000" stroke-width="1"/>
<rect x="298.5" y="481.5" width="60.0" height="17.0" fill="#fff" stroke="#000" stroke-width="1"/>
<text x="302.40" y="492.20" font-size="9.80" textLength="49.4" lengthAdjust="spacing" fill="#111">150 {1530}</text>
<path d="M329.5 481.5 L329.5 415.0" fill="none" stroke="#000" stroke-width="1"/>
<rect x="400.5" y="483.5" width="60.0" height="17.0" fill="#fff" stroke="#000" stroke-width="1"/>
<text x="404.40" y="494.20" font-size="9.80" textLength="49.4" lengthAdjust="spacing" fill="#111">150 {1530}</text>
<path d="M400.5 491.5 L378.5 491.5 L378.5 466.0" fill="none" stroke="#000" stroke-width="1"/>
<text x="148.50" y="357.00" font-size="11.50" fill="#444">x2</text>
<text x="203.00" y="413.50" font-size="11.50" fill="#444">x3</text>
<text x="336.00" y="409.50" font-size="11.50" fill="#444">x2</text>
<text x="387.00" y="463.00" font-size="11.50" fill="#444">x3</text>
<text x="275.00" y="193.00" font-size="11.50" fill="#444">x2</text>
<text x="589.00" y="282.50" font-size="11.50" fill="#444">x2</text>
</g>
</svg>
</body></html>
